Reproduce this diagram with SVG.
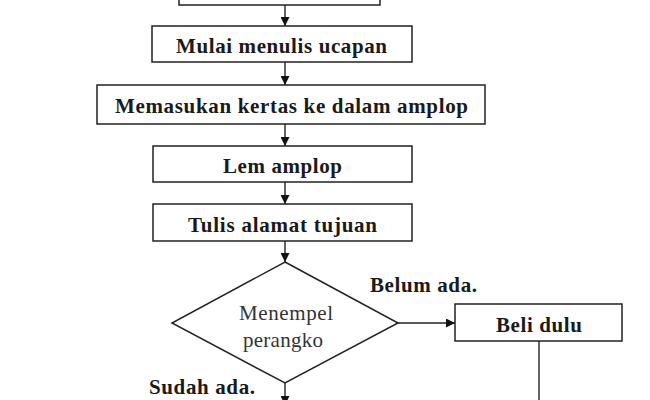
<svg xmlns="http://www.w3.org/2000/svg" width="650" height="400" viewBox="0 0 650 400">
<defs>
<marker id="ah" viewBox="0 0 10 10" refX="10" refY="5" markerWidth="9" markerHeight="9" markerUnits="userSpaceOnUse" orient="auto">
<path d="M0,0 L10,5 L0,10 z" fill="#111"/>
</marker>
<style>
.box{fill:#fff;stroke:#222;stroke-width:1.5}
.t{font-family:"Liberation Serif","Times New Roman",serif;font-weight:bold;font-size:21px;fill:#1a1a1a}
.n{font-family:"Liberation Serif","Times New Roman",serif;font-size:21px;fill:#333}
.c{stroke:#222;stroke-width:1.4;fill:none}
</style>
</defs>
<rect width="650" height="400" fill="#fff"/>
<g id="n0"><rect class="box" x="179" y="-30" width="201" height="35"/></g>
<g id="n1"><rect class="box" x="152" y="26" width="260" height="36"/>
<text class="t" x="176" y="53" textLength="211" lengthAdjust="spacing">Mulai menulis ucapan</text></g>
<g id="n2"><rect class="box" x="97" y="85" width="388" height="39"/>
<text class="t" x="115" y="113" textLength="353" lengthAdjust="spacing">Memasukan kertas ke dalam amplop</text></g>
<g id="n3"><rect class="box" x="153" y="146" width="259" height="36"/>
<text class="t" x="223" y="173" textLength="119" lengthAdjust="spacing">Lem amplop</text></g>
<g id="n4"><rect class="box" x="153" y="204" width="259" height="37"/>
<text class="t" x="188" y="232" textLength="189" lengthAdjust="spacing">Tulis alamat tujuan</text></g>
<g id="n5"><polygon class="box" points="285,262 398,323 285,383 172,323"/>
<text class="n" x="239" y="320" textLength="94" lengthAdjust="spacing">Menempel</text>
<text class="n" x="243" y="347" textLength="80" lengthAdjust="spacing">perangko</text></g>
<g id="n6"><rect class="box" x="455" y="304" width="167" height="37"/>
<text class="t" x="496" y="332" textLength="86" lengthAdjust="spacing">Beli dulu</text></g>
<g id="connectors">
<line class="c" x1="285" y1="5" x2="285" y2="26" marker-end="url(#ah)"/>
<line class="c" x1="285" y1="62" x2="285" y2="85" marker-end="url(#ah)"/>
<line class="c" x1="285" y1="124" x2="285" y2="146" marker-end="url(#ah)"/>
<line class="c" x1="285" y1="182" x2="285" y2="204" marker-end="url(#ah)"/>
<line class="c" x1="285" y1="241" x2="285" y2="262" marker-end="url(#ah)"/>
<line class="c" x1="398" y1="323" x2="455" y2="323" marker-end="url(#ah)"/>
<line class="c" x1="285" y1="383" x2="285" y2="405" marker-end="url(#ah)"/>
<line class="c" x1="539" y1="341" x2="539" y2="400"/>
<text class="t" x="370" y="292" textLength="107" lengthAdjust="spacing">Belum ada.</text>
<text class="t" x="149" y="394" textLength="106" lengthAdjust="spacing">Sudah ada.</text>
</g>
</svg>
